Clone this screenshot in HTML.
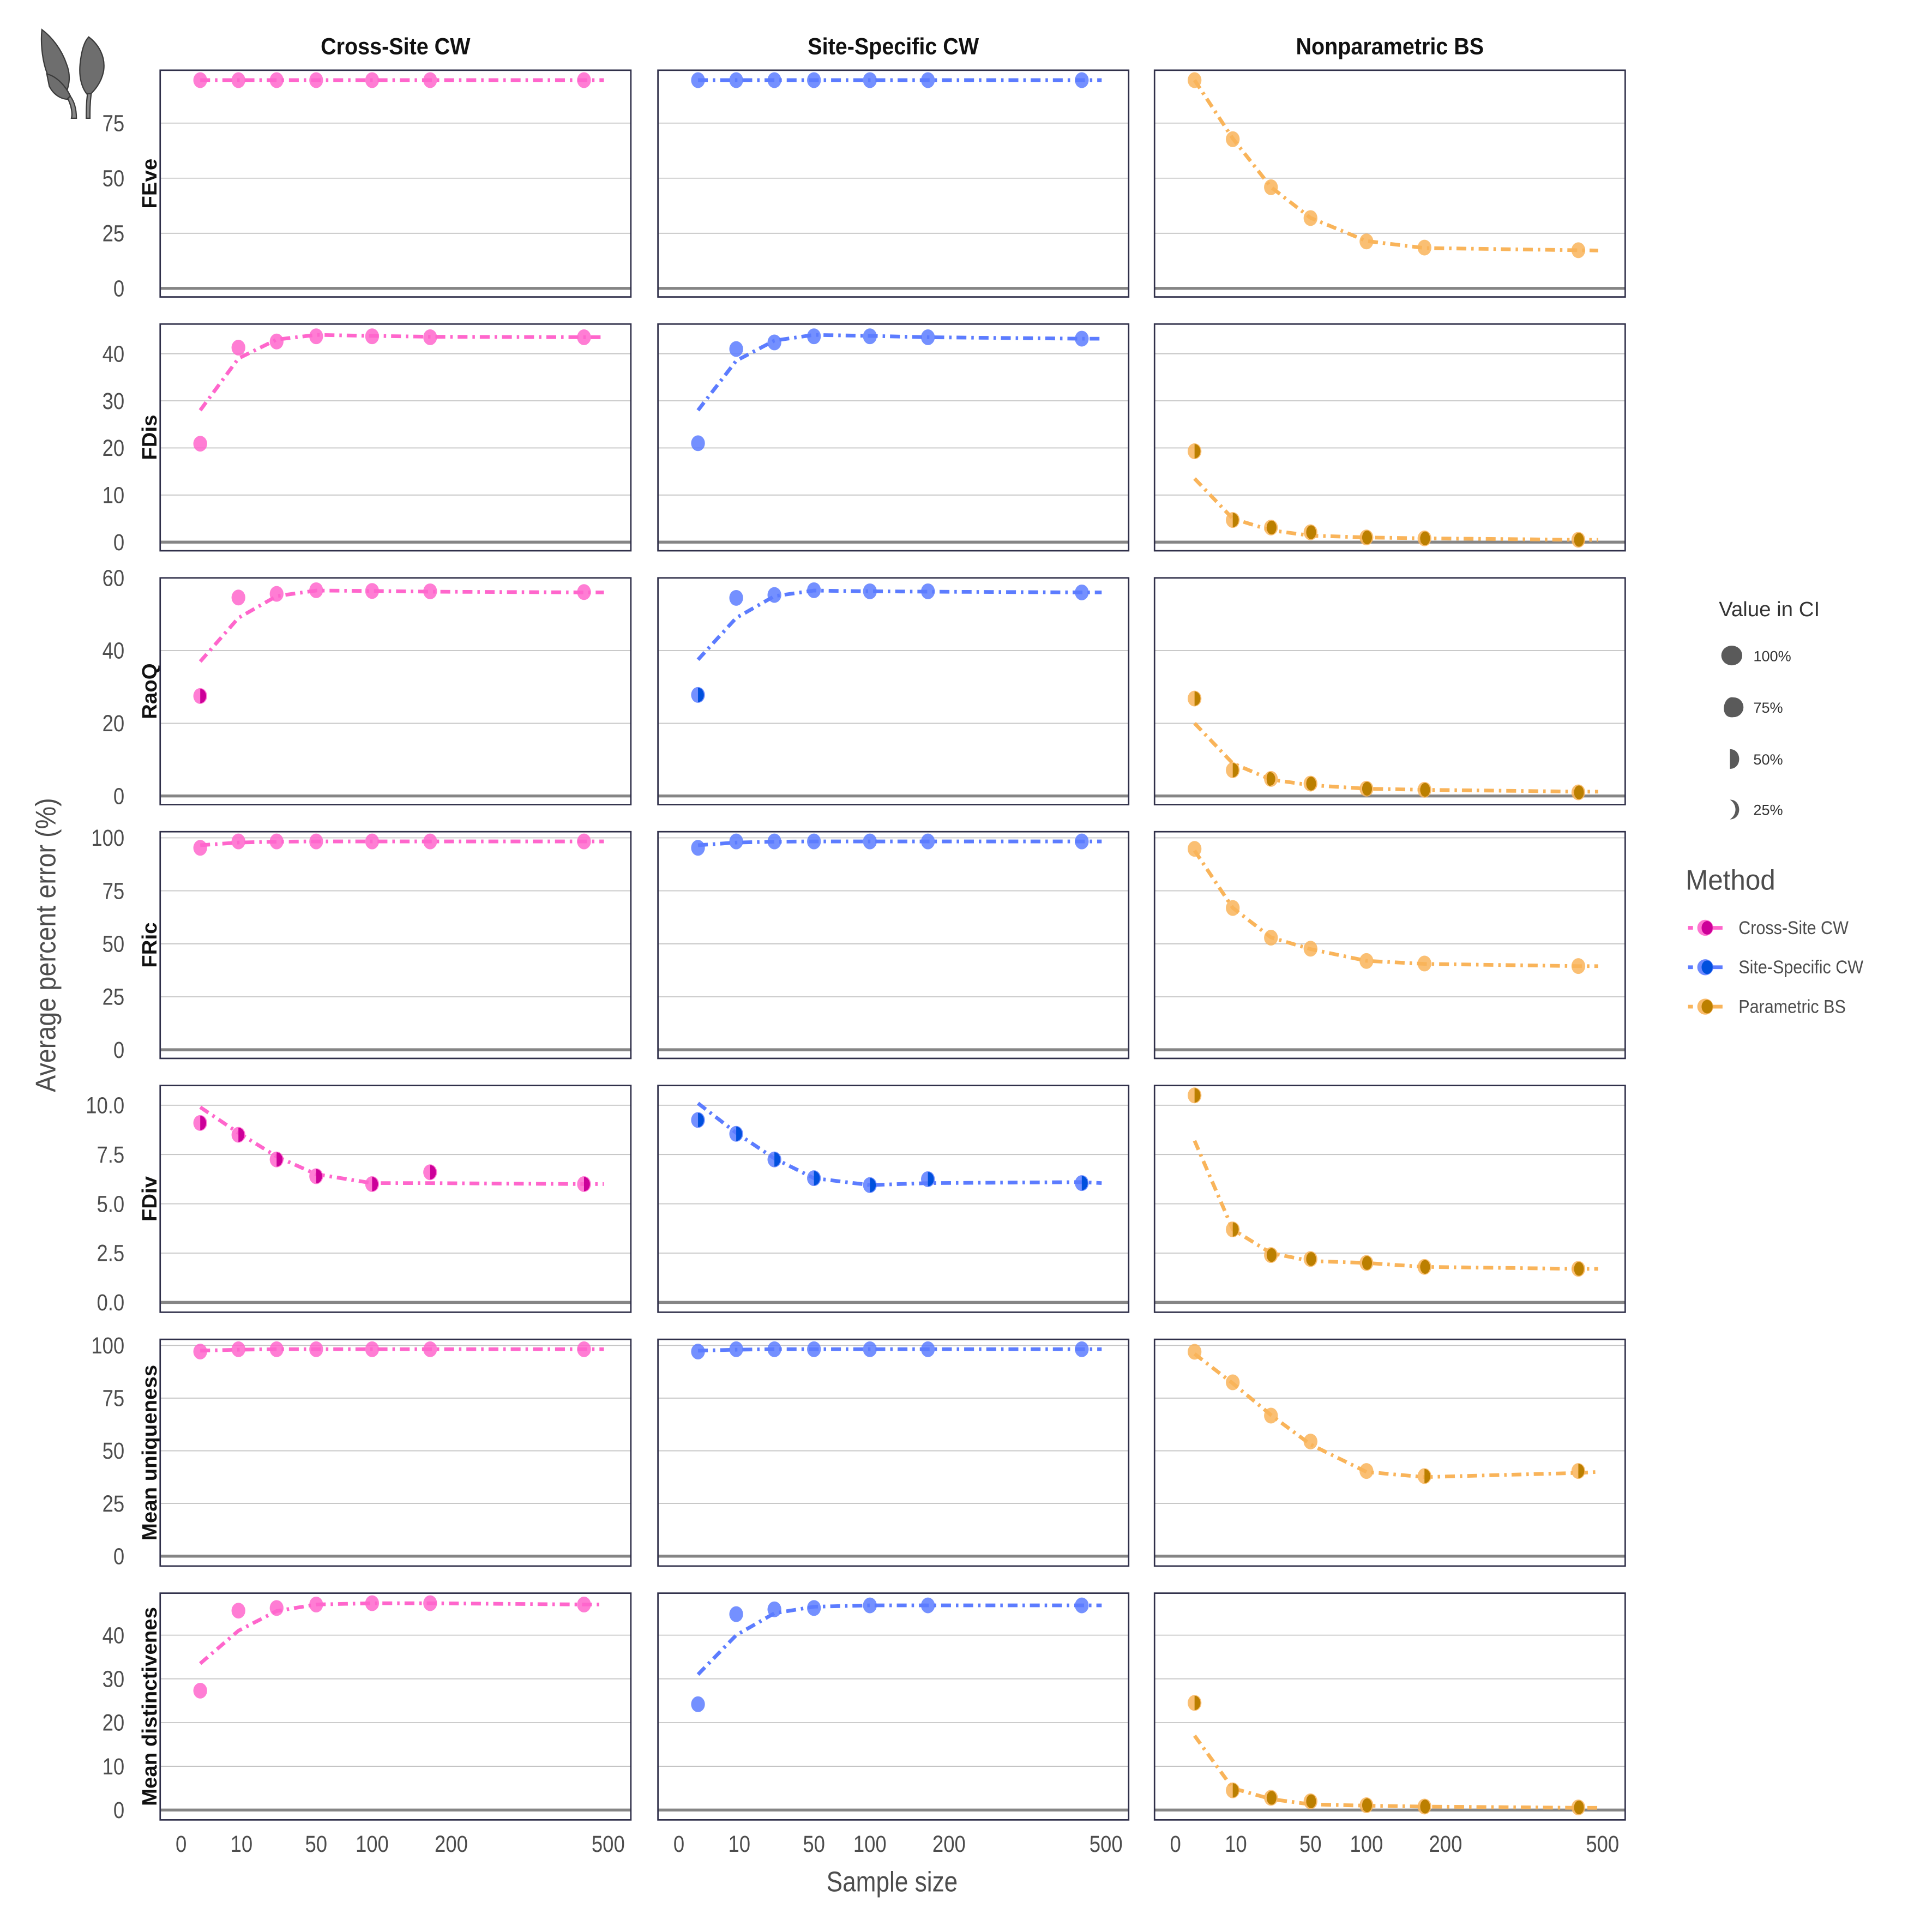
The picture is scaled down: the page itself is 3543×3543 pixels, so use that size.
<!DOCTYPE html>
<html><head><meta charset="utf-8"><style>
html,body{margin:0;padding:0;background:#fff;}
svg{display:block;}
text{font-family:"Liberation Sans",sans-serif;}
</style></head><body>
<svg id="chart" xmlns="http://www.w3.org/2000/svg" width="3543" height="3543" viewBox="0 0 1568 1568">
<g fill="#6e6e6e" stroke="#3a3a3a" stroke-width="1">
<path d="M34 24 C42 30 50 40 54 52 C58 62 56 72 52 78 C46 74 40 66 37 56 C34 46 33 34 34 24 Z"/>
<path d="M38 60 C46 62 54 70 58 80 C52 82 44 78 40 70 Z"/>
<path d="M72 30 C80 36 86 46 84 58 C82 68 76 74 72 78 C66 72 64 62 65 52 C66 42 68 34 72 30 Z"/>
<path d="M55 80 C58 86 59 92 58 96 L62 96 C62 88 60 82 57 78 Z" fill="#888"/>
<path d="M71 76 C70 84 70 90 70 96 L73 96 C73 90 73 84 74 76 Z" fill="#888"/>
</g>
<g id="panels"></g>
<g id="legend"></g>
</svg>
<script>
const NS="http://www.w3.org/2000/svg";
const sampleSizes=[1,9,25,50,100,170,445];
const lineSizes=[1,9,25,50,100,170,445,490];
const xTickValues=[0,10,50,100,200,500];
const xTickLabels=["0","10","50","100","200","500"];
const methods=["Cross-Site CW","Site-Specific CW","Nonparametric BS"];
const legendMethods=["Cross-Site CW","Site-Specific CW","Parametric BS"];
const metrics=["FEve","FDis","RaoQ","FRic","FDiv","Mean uniqueness","Mean distinctivenes"];
const yDomains=[[-3.9,99],[-1.83,46.3],[-2.37,60],[-4.07,102.9],[-0.5,11],[-4.7,102.9],[-2.25,49.6]];
const yTicks=[[0,25,50,75],[0,10,20,30,40],[0,20,40,60],[0,25,50,75,100],[0,2.5,5,7.5,10],[0,25,50,75,100],[0,10,20,30,40]];
const yTickLabels=[["0","25","50","75"],["0","10","20","30","40"],["0","20","40","60"],["0","25","50","75","100"],["0.0","2.5","5.0","7.5","10.0"],["0","25","50","75","100"],["0","10","20","30","40"]];
const pointValues=[
 [[94.5,94.5,94.5,94.5,94.5,94.5,94.5],[94.5,94.5,94.5,94.5,94.5,94.5,94.5],[94.5,67.7,45.9,31.9,21.3,18.5,17.3]],
 [[20.9,41.3,42.6,43.7,43.7,43.5,43.5],[21,41,42.4,43.7,43.7,43.5,43.2],[19.3,4.7,3.1,2.1,1.0,0.8,0.5]],
 [[27.5,54.6,55.6,56.6,56.4,56.3,56.1],[27.8,54.5,55.3,56.6,56.3,56.3,56],[26.8,7.1,4.7,3.4,2.0,1.7,1.0]],
 [[95.3,98.3,98.3,98.3,98.3,98.3,98.3],[95.3,98.3,98.3,98.3,98.3,98.3,98.3],[94.8,66.9,52.9,47.7,41.9,40.7,39.5]],
 [[9.1,8.5,7.25,6.4,6.0,6.6,6.0],[9.25,8.55,7.25,6.3,5.95,6.25,6.05],[10.5,3.7,2.4,2.2,2.0,1.8,1.7]],
 [[97.1,98.2,98.2,98.2,98.2,98.2,98.2],[97.1,98.2,98.2,98.2,98.2,98.2,98.2],[97,82.5,66.7,54.4,40.4,38,40.4]],
 [[27.3,45.6,46.2,47,47.3,47.3,47],[24.2,44.8,45.9,46.2,46.8,46.8,46.8],[24.5,4.5,2.8,2.0,1.1,0.8,0.6]]
];
const lineValues=[
 [[94.5,94.5,94.5,94.5,94.5,94.5,94.5,94.5],[94.5,94.5,94.5,94.5,94.5,94.5,94.5,94.5],[94.5,68,46,32,21.5,18.3,17.3,17.2]],
 [[28,39,43,44,43.8,43.6,43.5,43.5],[28,38.5,42.8,44,43.8,43.5,43.2,43.2],[13.5,5,2.5,1.4,1.0,0.8,0.5,0.5]],
 [[37,49,55,56.5,56.4,56.2,56,56],[37.5,49,55,56.5,56.3,56.2,56,56],[20,9,4.5,3,2,1.7,1.2,1.2]],
 [[96.5,97.8,98.2,98.3,98.3,98.3,98.3,98.3],[96.5,97.8,98.2,98.3,98.3,98.3,98.3,98.3],[94,67,53,47.5,42,40.5,39.5,39.5]],
 [[9.9,8.6,7.4,6.5,6.05,6.05,6.0,6.0],[10.1,8.6,7.3,6.3,5.95,6.05,6.1,6.05],[8.2,3.7,2.5,2.1,2.0,1.8,1.7,1.7]],
 [[97.5,98,98.2,98.2,98.2,98.2,98.2,98.2],[97.5,98,98.2,98.2,98.2,98.2,98.2,98.2],[96,82,67,53,40,37.5,39.5,40]],
 [[33.5,41,45.5,47,47.3,47.3,47,47],[31,40,45,46.5,46.8,46.8,46.8,46.8],[17,5,2.5,1.3,1,0.8,0.5,0.5]]
];
const ciValues=[
 [[0,0,0,0,0,0,0],[0,0,0,0,0,0,0],[0,0,0,0,0,0,0]],
 [[0,0,0,0,0,0,0],[0,0,0,0,0,0,0],[0.5,0.5,1,1,1,1,1]],
 [[0.5,0,0,0,0,0,0],[0.5,0,0,0,0,0,0],[0.5,0.5,0.75,1,1,1,1]],
 [[0,0,0,0,0,0,0],[0,0,0,0,0,0,0],[0,0,0,0,0,0,0]],
 [[0.5,0.5,0.5,0.5,0.5,0.5,0.5],[0.5,0.5,0.5,0.5,0.5,0.5,0.5],[0.5,0.5,1,1,1,1,1]],
 [[0,0,0,0,0,0,0],[0,0,0,0,0,0,0],[0,0,0,0,0,0.5,0.5]],
 [[0,0,0,0,0,0,0],[0,0,0,0,0,0,0],[0.5,0.5,1,1,1,1,1]]
];
const lightColors=["#ff66cc","#5c7cff","#f9b45a"];
const darkColors=["#cc0099","#0050dd","#bb7f00"];

const colLeft=[130,534,937], panelW=382, rowTop0=57, rowStep=206, panelH=184;
function el(tag,attrs,parent){const e=document.createElementNS(NS,tag);for(const k in attrs)e.setAttribute(k,attrs[k]);parent.appendChild(e);return e;}
function xScale(c,v){return colLeft[c]+17+15.5*Math.sqrt(v);}
function yScale(r,v){const d=yDomains[r];const top=rowTop0+r*rowStep;return top+panelH-(v-d[0])/(d[1]-d[0])*panelH;}
function txt(parent,x,y,s,size,anchor,fill,weight,sx){const t=el('text',{transform:`translate(${x},${y}) scale(${sx||0.85},1)`,'font-size':size,'text-anchor':anchor,fill:fill,'font-weight':weight||'normal'},parent);t.textContent=s;return t;}
function marker(g,cx,cy,ci,m){
  el('ellipse',{cx:cx,cy:cy,rx:5.6,ry:6.4,fill:lightColors[m],'fill-opacity':0.85},g);
  if(ci>=1){el('ellipse',{cx:cx+0.5,cy:cy,rx:4,ry:5.6,fill:darkColors[m]},g);}
  else if(ci>=0.75){el('path',{d:`M${cx-1} ${cy-5.6} A4.5 5.6 0 0 1 ${cx-1} ${cy+5.6} A2.5 5.6 0 0 1 ${cx-1} ${cy-5.6}Z`,fill:darkColors[m]},g);}
  else if(ci>=0.5){el('path',{d:`M${cx} ${cy-5.8} A4.8 5.8 0 0 1 ${cx} ${cy+5.8}Z`,fill:darkColors[m]},g);}
  else if(ci>0){el('path',{d:`M${cx+1} ${cy-5.6} A4.5 5.6 0 0 1 ${cx+1} ${cy+5.6} A3 5.6 0 0 0 ${cx+1} ${cy-5.6}Z`,fill:darkColors[m]},g);}
}
const P=document.getElementById('panels');
methods.forEach((mname,c)=>{
  const t=txt(P,colLeft[c]+panelW/2,44,mname,19,'middle','#111','bold',0.92);
  
  
});
metrics.forEach((met,r)=>{
  const top=rowTop0+r*rowStep;
  const lab=el('text',{transform:`translate(127,${top+panelH/2}) rotate(-90)`,'font-size':17,'font-weight':'bold','text-anchor':'middle',fill:'#111'},P);
  lab.textContent=met;
  
  
  yTicks[r].forEach((v,i)=>{
    const tl=txt(P,101,yScale(r,v)+6.5,yTickLabels[r][i],19,'end','#4d4d4d');
    
    
  });
  methods.forEach((mname,c)=>{
    const g=el('g',{},P);
    
    
    const L=colLeft[c];
    el('rect',{x:L,y:top,width:panelW,height:panelH,fill:'#fff'},g);
    yTicks[r].forEach(v=>{ if(v!==0){const y=yScale(r,v); if(y>top){const gl=el('line',{x1:L,x2:L+panelW,y1:y,y2:y,stroke:'#c4c4c4','stroke-width':0.8},g);
      
      }}});
    const z=el('line',{x1:L,x2:L+panelW,y1:yScale(r,0),y2:yScale(r,0),stroke:'#858585','stroke-width':2.4},g);
    
    
    const d=lineSizes.map((n,i)=>(i?'L':'M')+xScale(c,n).toFixed(1)+' '+yScale(r,lineValues[r][c][i]).toFixed(1)).join(' ');
    const pl=el('path',{d:d,fill:'none',stroke:lightColors[c],'stroke-width':3,'stroke-dasharray':'8,4,2,4','stroke-linejoin':'round'},g);
    
    
    sampleSizes.forEach((n,i)=>{
      const mg=el('g',{},g);
      
      
      marker(mg,xScale(c,n),yScale(r,pointValues[r][c][i]),ciValues[r][c][i],c);
    });
    const b=el('rect',{x:L,y:top,width:panelW,height:panelH,fill:'none',stroke:'#30304a','stroke-width':1.2},g);
    
    
  });
});
methods.forEach((m,c)=>{
  xTickValues.forEach((v,i)=>{
    const t=txt(P,xScale(c,v),1503,xTickLabels[i],19,'middle','#4d4d4d');
    
    
  });
});
const xt=txt(P,724,1535,'Sample size',23,'middle','#4d4d4d');


const yt=el('text',{transform:'translate(45,767) rotate(-90) scale(0.9,1)','font-size':23,'text-anchor':'middle',fill:'#4d4d4d'},P);
yt.textContent='Average percent error (%)';



const G=document.getElementById('legend');
const ciTitle=txt(G,1395,500,'Value in CI',17,'start','#333',null,1);


const ciLabels=["100%","75%","50%","25%"], ciFracs=[1,0.75,0.5,0.25], ciY=[532,574,616,657];
ciLabels.forEach((s,i)=>{
  const cx=1405,cy=ciY[i];let sh;
  if(ciFracs[i]===1) sh=el('ellipse',{cx:cx+0.5,cy:cy,rx:8.5,ry:8,fill:'#5a5a5a'},G);
  else if(ciFracs[i]===0.75) sh=el('path',{d:`M${cx+2} ${cy-8} A8 8 0 0 1 ${cx+2} ${cy+8} C${cx-10} ${cy+10} ${cx-7} ${cy-10} ${cx+2} ${cy-8}Z`,fill:'#5a5a5a'},G);
  else if(ciFracs[i]===0.5) sh=el('path',{d:`M${cx-1} ${cy-8} C${cx+9} ${cy-8} ${cx+9} ${cy+8} ${cx-1} ${cy+8}Z`,fill:'#5a5a5a'},G);
  else sh=el('path',{d:`M${cx-1} ${cy-8} C${cx+9} ${cy-8} ${cx+9} ${cy+8} ${cx-1} ${cy+8} C${cx+5} ${cy+4} ${cx+5} ${cy-4} ${cx-1} ${cy-8}Z`,fill:'#5a5a5a'},G);
  
  
  const t=txt(G,1423,cy+4.5,s,12,'start','#333',null,1);
  
  
});
const mt=txt(G,1368,722,'Method',23,'start','#4d4d4d',null,0.95);


const legY=[753,785,817];
legendMethods.forEach((s,i)=>{
  const g=el('g',{},G);
  
  
  el('line',{x1:1370,x2:1374,y1:legY[i],y2:legY[i],stroke:lightColors[i],'stroke-width':3},g);
  el('line',{x1:1390,x2:1398,y1:legY[i],y2:legY[i],stroke:lightColors[i],'stroke-width':3},g);
  el('ellipse',{cx:1384,cy:legY[i],rx:6.5,ry:6.5,fill:lightColors[i],'fill-opacity':0.9},g);
  el('ellipse',{cx:1385.5,cy:legY[i],rx:4.5,ry:5.5,fill:darkColors[i]},g);
  txt(g,1411,legY[i]+5,s,15,'start','#4d4d4d',null,0.9);
});
</script>
</body></html>
